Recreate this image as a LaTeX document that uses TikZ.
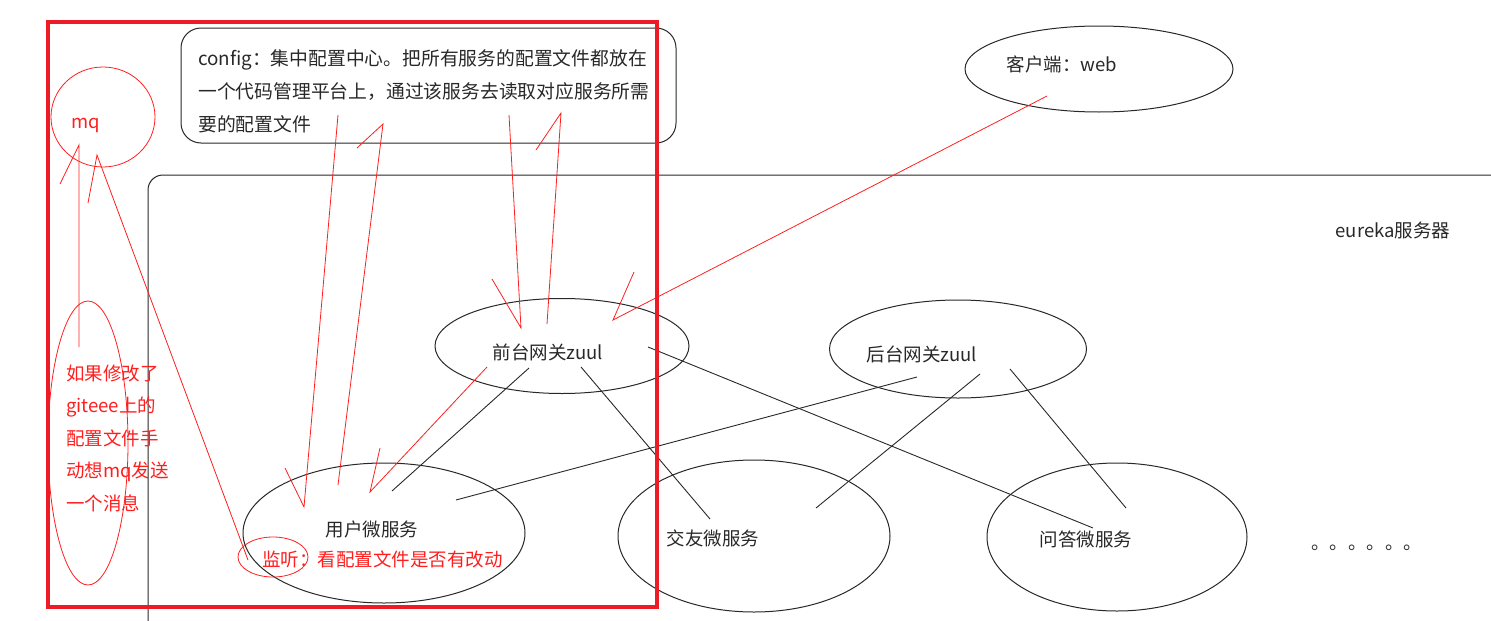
\documentclass[tikz,border=0pt]{standalone}
\usepackage{fontspec}
\setmainfont{Noto Sans CJK SC}
\usetikzlibrary{shapes.geometric}
\definecolor{penred}{RGB}{255,30,30}
\definecolor{boxred}{RGB}{237,28,36}
\definecolor{inkgray}{RGB}{40,40,40}

\begin{document}
\begin{tikzpicture}[x=1pt, y=-1pt,
  svc/.style={ellipse, draw=inkgray, line width=1pt, inner sep=0pt},
  note/.style={ellipse, draw=penred, line width=0.8pt, inner sep=0pt},
  txt/.style={font=\fontsize{18.5}{32.5}\selectfont, text=inkgray, inner sep=0pt},
  redtxt/.style={txt, text=penred},
  link/.style={draw=inkgray, line width=0.9pt},
  pen/.style={draw=penred, line width=0.8pt}
]
  \useasboundingbox (0,0) rectangle (1491,621);
  % eureka area
  \draw[inkgray, line width=1pt, rounded corners=15pt] (148,621) -- (148,175) -- (1491,175);
  \node[txt] (eurekalbl) at (1393,230) {eureka服务器};
  % config box
  \node[draw=inkgray, line width=1pt, rounded corners=20pt, inner sep=0pt,
    minimum width=495pt, minimum height=115pt] (config) at (428.5,85.5) {};
  \node[txt, font=\fontsize{18.8}{33}\selectfont, align=left, anchor=west] (configtxt) at (198,91)
    {config：集中配置中心。把所有服务的配置文件都放在\\
     一个代码管理平台上，通过该服务去读取对应服务所需\\
     要的配置文件};
  % mq and note
  \node[note, minimum width=104pt, minimum height=100pt] (mq) at (103,117) {};
  \node[redtxt] (mqlbl) at (86,125) {mq};
  \node[note, minimum width=80pt, minimum height=284pt] (notice) at (88,443) {};
  \node[redtxt, align=left, anchor=west] (noticetxt) at (66,438)
    {如果修改了\\giteee上的\\配置文件手\\动想mq发送\\一个消息};
  % client
  \node[svc, minimum width=268pt, minimum height=86pt] (client) at (1099,69) {};
  \node[txt] (clientlbl) at (1062,64) {客户端：web};
  % gateways
  \node[svc, minimum width=254pt, minimum height=95pt] (front) at (562,346) {};
  \node[txt] (frontlbl) at (548,352) {前台网关zuul};
  \node[svc, minimum width=257pt, minimum height=98pt] (back) at (958,349) {};
  \node[txt] (backlbl) at (922,354) {后台网关zuul};
  % services
  \node[svc, minimum width=282pt, minimum height=140pt] (user) at (384,533) {};
  \node[txt] (userlbl) at (372,529) {用户微服务};
  \node[redtxt] (listenlbl) at (382.5,559) {监听：看配置文件是否有改动};
  \node[note, minimum width=70pt, minimum height=40pt] (listen) at (273,557) {};
  \node[svc, minimum width=272pt, minimum height=152pt] (friend) at (754,536) {};
  \node[txt] (friendlbl) at (713,538) {交友微服务};
  \node[svc, minimum width=260pt, minimum height=148pt] (qa) at (1117,537) {};
  \node[txt] (qalbl) at (1086,539) {问答微服务};
  \node[txt, anchor=base west] (more) at (1311,549) {。。。。。。};
  % gateway links
  \draw[link] ([shift={(-33,22)}]front.center) -- ([shift={(8,-42)}]user.center);
  \draw[link] ([shift={(19,21)}]front.center) -- ([shift={(-44,-17)}]friend.center);
  \draw[link] ([shift={(86,1)}]front.center) -- ([shift={(-24,-9)}]qa.center);
  \draw[link] ([shift={(-41,28)}]back.center) -- ([shift={(72,-33)}]user.center);
  \draw[link] ([shift={(22,25)}]back.center) -- ([shift={(62,-28)}]friend.center);
  \draw[link] ([shift={(52,20)}]back.center) -- ([shift={(9,-29)}]qa.center);
  % hand drawn arrows (one barb each)
  \draw[pen] ([shift={(-43,67)}]mq.center) -- ([shift={(-24,28)}]mq.center)
    -- ([shift={(-9,-96)}]notice.center);
  \draw[pen] ([shift={(-15,86)}]mq.center) -- ([shift={(-6,38)}]mq.center)
    -- ([shift={(-25,3)}]listen.center);
  \draw[pen] ([shift={(-90.5,29.5)}]config.center) -- ([shift={(-80,-26)}]user.center)
    -- ([shift={(-99,-65)}]user.center);
  \draw[pen] ([shift={(-71.5,62.5)}]config.center) -- ([shift={(-45.5,38.5)}]config.center)
    -- ([shift={(-46,-48)}]user.center);
  \draw[pen] ([shift={(-75,21)}]front.center) -- ([shift={(-14,-41)}]user.center)
    -- ([shift={(-4,-85)}]user.center);
  \draw[pen] ([shift={(80.5,29.5)}]config.center) -- ([shift={(-41,-18)}]front.center)
    -- ([shift={(-70,-67)}]front.center);
  \draw[pen] ([shift={(107.5,64.5)}]config.center) -- ([shift={(132.5,27.5)}]config.center)
    -- ([shift={(-15,-22)}]front.center);
  \draw[pen] ([shift={(-52,27)}]client.center) -- ([shift={(51,-26)}]front.center)
    -- ([shift={(72,-74)}]front.center);
  % focus frame
  \node[draw=boxred, line width=3.5pt, inner sep=0pt,
    minimum width=609pt, minimum height=585pt] (focus) at (352.5,314.5) {};
\end{tikzpicture}
\end{document}
